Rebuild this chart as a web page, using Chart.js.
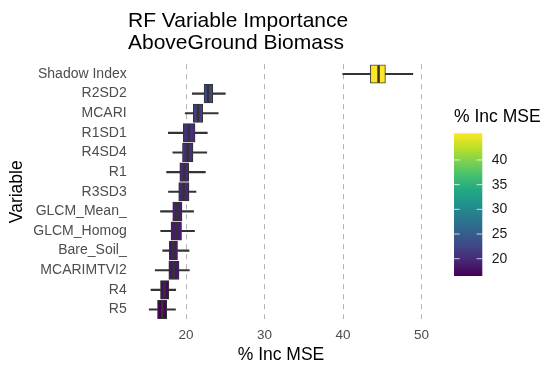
<!DOCTYPE html>
<html><head><meta charset="utf-8">
<script src="https://cdn.jsdelivr.net/npm/chart.js@4.4.1/dist/chart.umd.min.js"></script>
<style>html,body{margin:0;padding:0;background:#fff}#wrap{position:relative;width:550px;height:370px}</style>
</head><body><div id="wrap"><canvas id="c" width="550" height="370"></canvas></div>
<script>
// ---- data ----
const titleLines = ['RF Variable Importance', 'AboveGround Biomass'];
const variables = ['Shadow Index','R2SD2','MCARI','R1SD1','R4SD4','R1','R3SD3','GLCM_Mean_','GLCM_Homog','Bare_Soil_','MCARIMTVI2','R4','R5'];
const whiskerLow  = [39.96, 20.80, 19.90, 17.75, 18.32, 17.54, 17.77, 16.75, 16.78, 17.03, 16.08, 15.54, 15.31];
const q1          = [43.48, 22.30, 20.93, 19.66, 19.55, 19.21, 19.07, 18.31, 18.09, 17.87, 17.81, 16.75, 16.37];
const median      = [44.52, 22.80, 21.53, 20.34, 20.22, 19.78, 19.71, 18.89, 18.73, 18.38, 18.43, 17.24, 16.98];
const q3          = [45.39, 23.40, 22.13, 21.15, 20.89, 20.34, 20.38, 19.49, 19.43, 18.92, 19.11, 17.81, 17.55];
const whiskerHigh = [48.88, 25.00, 24.10, 22.71, 22.64, 22.46, 21.27, 20.96, 21.08, 20.38, 20.42, 18.69, 18.66];
const meanIncMSE  = [45.40, 22.90, 21.60, 20.30, 20.20, 19.80, 19.60, 18.90, 18.70, 18.40, 18.30, 17.10, 16.50];
const xTicks = [20, 30, 40, 50];
const colorbarTicks = [20, 25, 30, 35, 40];
const xTitle = '% Inc MSE';
const yTitle = 'Variable';
const legendTitle = '% Inc MSE';

// ---- styling helpers ----
const FONT = '"Liberation Sans", Arial, Helvetica, sans-serif';
const viridisStops = ['#440154','#482475','#414487','#355f8d','#2a788e','#21918c','#22a884','#44bf70','#7ad151','#bddf26','#fde725'];
function hex2rgb(h){return [parseInt(h.slice(1,3),16),parseInt(h.slice(3,5),16),parseInt(h.slice(5,7),16)];}
function viridis(t){
  t = Math.max(0, Math.min(1, t));
  const n = viridisStops.length - 1, p = t * n, i = Math.min(Math.floor(p), n - 1), f = p - i;
  const a = hex2rgb(viridisStops[i]), b = hex2rgb(viridisStops[i+1]);
  return 'rgb(' + a.map((v,k)=>Math.round(v + (b[k]-v)*f)).join(',') + ')';
}
const cMin = Math.min(...meanIncMSE), cMax = Math.max(...meanIncMSE);
const boxColors = meanIncMSE.map(v => viridis((v - cMin) / (cMax - cMin)));
const dLo = Math.min(...whiskerLow), dHi = Math.max(...whiskerHigh), pad = 0.05 * (dHi - dLo);
const BOX_H = 18.5;

const extras = {
  id: 'extras',
  afterDatasetsDraw(chart) {
    const {ctx, scales: {x, y}} = chart;
    ctx.save();
    ctx.strokeStyle = '#333333';
    ctx.lineWidth = 2.5;
    median.forEach((m, i) => {
      const px = x.getPixelForValue(m), py = y.getPixelForValue(i);
      ctx.beginPath();
      ctx.moveTo(px, py - BOX_H / 2 + 0.5);
      ctx.lineTo(px, py + BOX_H / 2 - 0.5);
      ctx.stroke();
    });
    ctx.restore();
  },
  afterDraw(chart) {
    const ctx = chart.ctx;
    ctx.save();
    // title
    ctx.fillStyle = '#000';
    ctx.font = '21px ' + FONT;
    ctx.textAlign = 'left';
    ctx.textBaseline = 'alphabetic';
    ctx.fillText(titleLines[0], 128, 26.7);
    ctx.fillText(titleLines[1], 128, 49.3);
    // colorbar legend
    const cbX = 454, cbW = 28.3, cbTop = 133.3, cbBot = 276, cbH = cbBot - cbTop;
    ctx.font = '17.5px ' + FONT;
    ctx.textBaseline = 'middle';
    ctx.fillText(legendTitle, 454, 116.7);
    const g = ctx.createLinearGradient(0, cbBot, 0, cbTop);
    viridisStops.forEach((c, i) => g.addColorStop(i / (viridisStops.length - 1), c));
    ctx.fillStyle = g;
    ctx.fillRect(cbX, cbTop, cbW, cbH);
    ctx.strokeStyle = 'rgba(255,255,255,0.75)';
    ctx.lineWidth = 1;
    ctx.font = '14px ' + FONT;
    ctx.fillStyle = '#1a1a1a';
    colorbarTicks.forEach(v => {
      const ty = cbBot - (v - cMin) / (cMax - cMin) * cbH;
      ctx.beginPath();
      ctx.moveTo(cbX, ty); ctx.lineTo(cbX + 5.7, ty);
      ctx.moveTo(cbX + cbW - 5.7, ty); ctx.lineTo(cbX + cbW, ty);
      ctx.stroke();
      ctx.fillText(String(v), 491.7, ty);
    });
    ctx.restore();
  }
};

new Chart(document.getElementById('c'), {
  type: 'bar',
  data: {
    labels: variables,
    datasets: [
      { label: 'IQR', data: variables.map((_, i) => [q1[i], q3[i]]), backgroundColor: boxColors,
        borderColor: '#333333', borderWidth: 1, borderSkipped: false, barThickness: BOX_H, grouped: false },
      { label: 'lower whisker', data: variables.map((_, i) => [whiskerLow[i], q1[i]]), backgroundColor: '#333333',
        borderWidth: 0, barThickness: 1.5, grouped: false },
      { label: 'upper whisker', data: variables.map((_, i) => [q3[i], whiskerHigh[i]]), backgroundColor: '#333333',
        borderWidth: 0, barThickness: 1.5, grouped: false }
    ]
  },
  options: {
    indexAxis: 'y',
    responsive: false,
    animation: false,
    layout: { padding: { top: 64.2, right: 124, bottom: 0, left: 0 } },
    plugins: { legend: { display: false }, title: { display: false }, tooltip: { enabled: false } },
    scales: {
      x: {
        type: 'linear', min: dLo - pad, max: dHi + pad,
        afterBuildTicks: s => { s.ticks = xTicks.map(v => ({ value: v })); },
        afterFit: s => { s.height = 50.7; },
        grid: { color: 'rgba(170,170,170,0.9)', lineWidth: 1, drawTicks: false },
        border: { display: false, dash: [5, 5] },
        ticks: { color: '#4d4d4d', font: { family: FONT, size: 13.5 }, padding: 7.6, maxRotation: 0 },
        title: { display: true, text: xTitle, color: '#000', font: { family: FONT, size: 17.5 }, padding: { top: 0, bottom: 4.5 } }
      },
      y: {
        type: 'category',
        afterFit: s => { s.width = 136; },
        grid: { display: false, drawTicks: false },
        border: { display: false },
        ticks: { color: '#4d4d4d', font: { family: FONT, size: 14 }, padding: 9.3, autoSkip: false },
        title: { display: true, text: yTitle, color: '#000', font: { family: FONT, size: 17.5 }, padding: { top: 6.2, bottom: 0 } }
      }
    }
  },
  plugins: [extras]
});
</script>
</body></html>
